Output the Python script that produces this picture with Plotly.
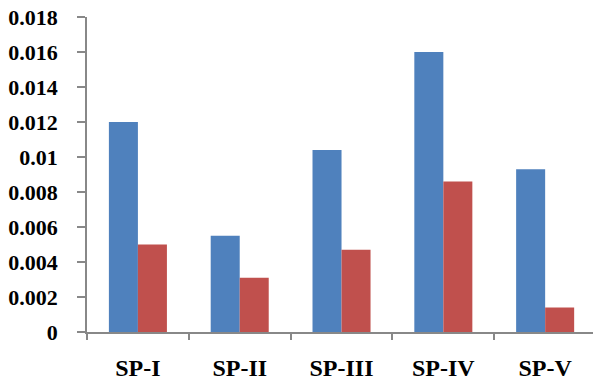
import plotly.graph_objects as go

categories = ["SP-I", "SP-II", "SP-III", "SP-IV", "SP-V"]
series_a = [0.0120, 0.0055, 0.0104, 0.0160, 0.0093]
series_b = [0.0050, 0.0031, 0.0047, 0.0086, 0.0014]
y_ticks = [0, 0.002, 0.004, 0.006, 0.008, 0.01, 0.012, 0.014, 0.016, 0.018]
y_tick_text = ["0", "0.002", "0.004", "0.006", "0.008", "0.01", "0.012", "0.014", "0.016", "0.018"]

y_font = dict(family="Liberation Serif", size=22, color="black", weight="bold")
x_font = dict(family="Liberation Serif", size=24, color="black", weight="bold")

fig = go.Figure()
fig.add_trace(go.Bar(x=categories, y=series_a, marker=dict(color="#4F81BD", line=dict(width=0))))
fig.add_trace(go.Bar(x=categories, y=series_b, marker=dict(color="#C0504D", line=dict(width=0))))

fig.update_layout(
    width=593, height=380, autosize=False,
    margin=dict(l=87, r=0, t=17, b=48),
    paper_bgcolor="white", plot_bgcolor="white",
    barmode="group", bargap=0.43, bargroupgap=0,
    showlegend=False,
    font=y_font,
)
fig.update_xaxes(
    range=[-0.5, 4.47], showline=True, linecolor="#888888", linewidth=1.5,
    ticks="outside", tickson="boundaries", ticklen=6, tickcolor="#888888", tickwidth=1.5,
    showgrid=False, tickfont=x_font,
    ticklabelstandoff=13,
)
fig.update_yaxes(
    range=[0, 0.018], tickvals=y_ticks, ticktext=y_tick_text,
    showline=True, linecolor="#888888", linewidth=1.5,
    ticks="outside", ticklen=8, tickcolor="#888888", tickwidth=1.5,
    showgrid=False, zeroline=False,
    tickfont=y_font,
    ticklabelstandoff=15,
)
fig.write_html("out.html")
